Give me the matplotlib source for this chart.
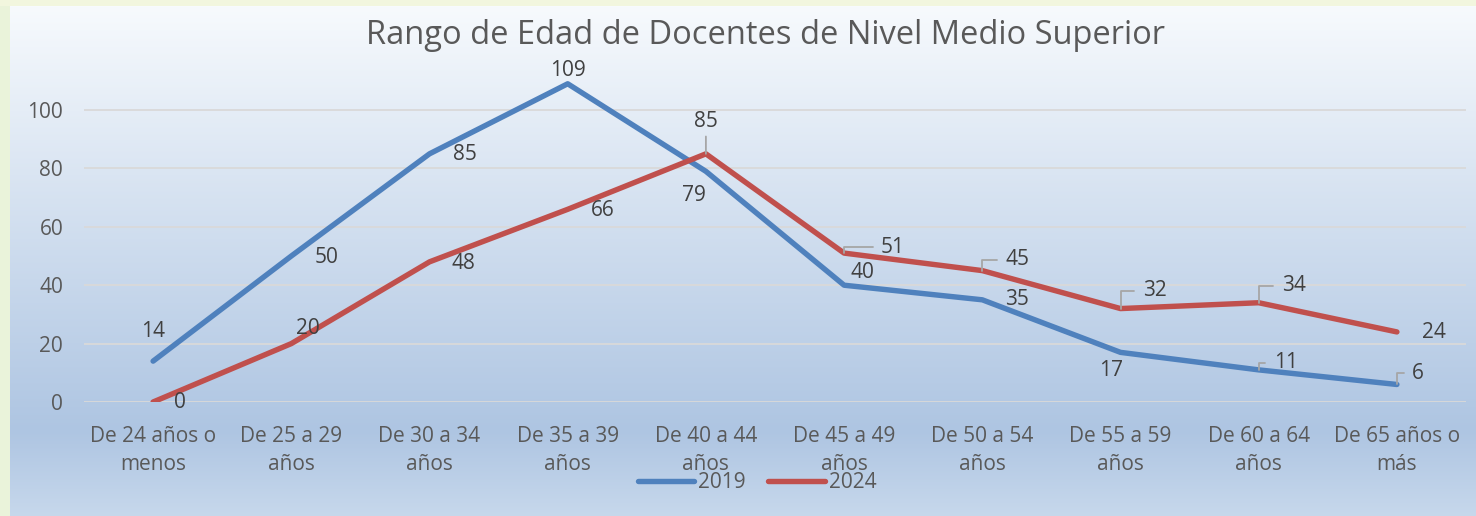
import numpy as np
import matplotlib
matplotlib.use("Agg")
import matplotlib.pyplot as plt
from matplotlib.lines import Line2D

categories = ["De 24 años o\nmenos", "De 25 a 29\naños", "De 30 a 34\naños", "De 35 a 39\naños",
              "De 40 a 44\naños", "De 45 a 49\naños", "De 50 a 54\naños", "De 55 a 59\naños",
              "De 60 a 64\naños", "De 65 años o\nmás"]
s2019 = [14, 50, 85, 109, 79, 40, 35, 17, 11, 6]
s2024 = [0, 20, 48, 66, 85, 51, 45, 32, 34, 24]
yticks = [0, 20, 40, 60, 80, 100]
title = "Rango de Edad de Docentes de Nivel Medio Superior"

# label offsets (pixels) and leader-line flags
off2019 = [(0, 30), (35, -1), (35, -1), (0, 13), (-12, -24), (18, 13), (35, 0), (-9, -18), (27, 7), (21, 11)]
lead2019 = [0, 0, 0, 0, 0, 0, 0, 0, 1, 1]
off2024 = [(27, -1), (17, 15), (34, -2), (35, -1), (0, 32), (49, 6), (35, 11), (34, 18), (35, 17), (37, -1)]
lead2024 = [0, 0, 0, 0, 2, 1, 1, 1, 1, 0]

plt.rcParams['font.family'] = ['Open Sans', 'DejaVu Sans']

W, H = 1476, 516
fig = plt.figure(figsize=(W / 100, H / 100), dpi=100)

# background gradient
ys = np.arange(H)
c_top = np.array([247, 250, 253])
c_mid = np.array([174, 197, 226])
c_bot = np.array([199, 216, 236])
col = np.zeros((H, 3))
for k in range(3):
    col[:, k] = np.interp(ys, [6, 430, 516], [c_top[k], c_mid[k], c_bot[k]])
img = np.repeat(col[:, None, :], W, axis=1)
img[:, :10, :] = [234, 243, 218]
img[:6, :, :] = [242, 246, 222]
bg = fig.add_axes([0, 0, 1, 1], zorder=-10)
bg.imshow(img.astype(np.uint8), aspect='auto', extent=[0, W, H, 0])
bg.axis('off')

ax = fig.add_axes([84 / W, 1 - 402 / H, (1466 - 84) / W, (402 - 75) / H])
ax.patch.set_alpha(0)
x = np.arange(len(categories))
blue = '#4F81BD'
red = '#C0504D'
ax.plot(x, s2019, color=blue, lw=3.9, solid_capstyle='round', solid_joinstyle='round', zorder=3)
ax.plot(x, s2024, color=red, lw=3.9, solid_capstyle='round', solid_joinstyle='round', zorder=3)
ax.set_xlim(-0.5, len(categories) - 0.5)
ax.set_ylim(0, 112)
ax.set_yticks(yticks)
ax.set_xticks(x)
ax.set_xticklabels(categories, fontsize=15, color='#595959', linespacing=1.45)
ax.tick_params(axis='y', labelsize=15, labelcolor='#595959', length=0, pad=15)
ax.tick_params(axis='x', length=0, pad=17)
ax.grid(axis='y', color='#D9D9D9', lw=1.3)
ax.set_axisbelow(True)
for sp in ax.spines.values():
    sp.set_visible(False)

def label(vals, offs, leads):
    for i, v in enumerate(vals):
        dx, dy = offs[i]
        kw = {}
        if leads[i] == 1:
            kw['arrowprops'] = dict(arrowstyle='-', color='#A6A6A6', lw=1.3,
                                    connectionstyle='angle,angleA=0,angleB=90,rad=0',
                                    relpos=(0, 0.5), shrinkA=4, shrinkB=0)
        elif leads[i] == 2:
            kw['arrowprops'] = dict(arrowstyle='-', color='#A6A6A6', lw=1.3,
                                    relpos=(0.5, 0), shrinkA=1, shrinkB=0)
        ax.annotate(str(v), (i, v), xytext=(dx, dy), textcoords='offset pixels',
                    ha='center', va='center', fontsize=15, color='#404040', zorder=5, **kw)

label(s2019, off2019, lead2019)
label(s2024, off2024, lead2024)

fig.text(766 / W, 1 - 35 / H, title, ha='center', va='center', fontsize=23.5, color='#595959')

handles = [Line2D([], [], color=blue, lw=3.9, solid_capstyle='round'),
           Line2D([], [], color=red, lw=3.9, solid_capstyle='round')]
fig.legend(handles, ['2019', '2024'], loc='center', bbox_to_anchor=(757 / W, 1 - 483 / H),
           ncol=2, frameon=False, fontsize=15, labelcolor='#595959',
           handlelength=2.7, handletextpad=0.2, columnspacing=1.1)

fig.savefig('out.png', dpi=100)
